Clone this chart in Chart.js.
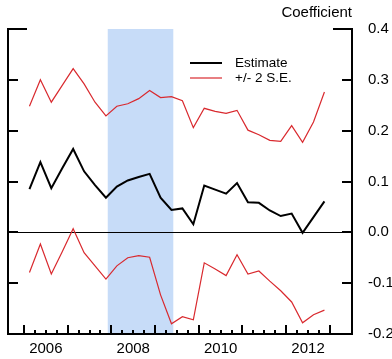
<!DOCTYPE html>
<html>
<head>
<meta charset="utf-8">
<script src="https://cdn.jsdelivr.net/npm/chart.js@4"></script>
<style>
html,body{margin:0;padding:0;background:#fff;}
canvas{display:block;}
</style>
</head>
<body>
<canvas id="c" width="392" height="359"></canvas>
<script>
const quarters = ['2006Q1','2006Q2','2006Q3','2006Q4','2007Q1','2007Q2','2007Q3','2007Q4',
  '2008Q1','2008Q2','2008Q3','2008Q4','2009Q1','2009Q2','2009Q3','2009Q4',
  '2010Q1','2010Q2','2010Q3','2010Q4','2011Q1','2011Q2','2011Q3','2011Q4',
  '2012Q1','2012Q2','2012Q3','2012Q4'];
const estimate = [0.085,0.138,0.087,0.126,0.164,0.120,0.093,0.068,
  0.090,0.102,0.109,0.115,0.068,0.044,0.047,0.016,
  0.092,0.084,0.076,0.097,0.059,0.058,0.043,0.032,
  0.037,-0.001,0.030,0.061];
const upperSE = [0.248,0.300,0.256,0.289,0.322,0.292,0.256,0.229,
  0.248,0.253,0.263,0.279,0.265,0.267,0.259,0.206,
  0.244,0.238,0.234,0.240,0.201,0.192,0.181,0.179,
  0.210,0.177,0.217,0.276];
const lowerSE = [-0.079,-0.023,-0.082,-0.038,0.007,-0.040,-0.066,-0.092,
  -0.066,-0.050,-0.046,-0.049,-0.123,-0.180,-0.166,-0.172,
  -0.060,-0.072,-0.085,-0.044,-0.082,-0.076,-0.096,-0.115,
  -0.137,-0.178,-0.162,-0.153];
const yTickValues = [-0.2,-0.1,0.0,0.1,0.2,0.3,0.4];
const xYearLabels = [2006,2008,2010,2012];
const recession = [2007 + 11/12, 2009 + 5/12]; // Dec 2007 - Jun 2009
const xRange = [2005.634, 2013.506];
const seriesNames = ['Estimate', '+/- 2 S.E.'];
const axisTitle = 'Coefficient';

const FONT = "'Liberation Sans', Arial, Helvetica, sans-serif";
const RED = '#d9292e';

function qToYear(q) {
  const y = parseInt(q.slice(0,4), 10);
  const n = parseInt(q.slice(5), 10);
  return y + (n - 0.5) / 4;
}
const xs = quarters.map(qToYear);
const pts = arr => arr.map((v, i) => ({x: xs[i], y: v}));

const decor = {
  id: 'decor',
  beforeDatasetsDraw(chart) {
    const {ctx, chartArea: a, scales: {x, y}} = chart;
    ctx.save();
    // recession shading
    ctx.fillStyle = '#c7dcf8';
    const x0 = x.getPixelForValue(recession[0]);
    const x1 = x.getPixelForValue(recession[1]);
    ctx.fillRect(x0, a.top, x1 - x0, a.bottom - a.top);
    // zero line
    ctx.strokeStyle = '#000';
    ctx.lineWidth = 1;
    const y0 = Math.round(y.getPixelForValue(0)) + 0.5;
    ctx.beginPath();
    ctx.moveTo(a.left, y0);
    ctx.lineTo(a.right, y0);
    ctx.stroke();
    ctx.restore();
  },
  afterDatasetsDraw(chart) {
    const {ctx, chartArea: a, scales: {x, y}} = chart;
    ctx.save();
    ctx.strokeStyle = '#000';
    ctx.lineWidth = 2;
    ctx.lineCap = 'butt';
    const L = a.left, R = a.right, B = a.bottom;
    // frame: left, right, bottom
    ctx.beginPath();
    ctx.moveTo(L, a.top); ctx.lineTo(L, B + 1);
    ctx.moveTo(R, a.top); ctx.lineTo(R, B + 1);
    ctx.moveTo(L - 1, B); ctx.lineTo(R + 1, B);
    ctx.stroke();
    // y ticks (inward)
    ctx.beginPath();
    yTickValues.forEach(v => {
      const py = Math.round(y.getPixelForValue(v));
      const len = (v === yTickValues[yTickValues.length - 1]) ? 19 : 10;
      ctx.moveTo(L - 1, py); ctx.lineTo(L + len, py);
      ctx.moveTo(R + 1, py); ctx.lineTo(R - len, py);
    });
    ctx.stroke();
    // x ticks (inward, upward): years major, quarters minor
    ctx.beginPath();
    for (let yr = 2006; yr <= 2013; yr++) {
      for (let q = 0; q < 4; q++) {
        const v = yr + q / 4;
        if (v > 2013) break;
        const px = Math.round(x.getPixelForValue(v));
        const len = q === 0 ? 9 : 4;
        ctx.moveTo(px, B); ctx.lineTo(px, B - len);
      }
    }
    ctx.stroke();
    // axis title
    ctx.fillStyle = '#000';
    ctx.font = '15px ' + FONT;
    ctx.textAlign = 'right';
    ctx.textBaseline = 'middle';
    ctx.fillText(axisTitle, R, 13);
    // legend
    const ds = chart.data.datasets;
    const items = [[ds[0], 63], [ds[1], 78]];
    ctx.font = '13.5px ' + FONT;
    ctx.textAlign = 'left';
    items.forEach(([d, ly]) => {
      ctx.strokeStyle = d.borderColor;
      ctx.lineWidth = d.borderWidth;
      ctx.beginPath();
      ctx.moveTo(190, ly); ctx.lineTo(222, ly);
      ctx.stroke();
      ctx.fillStyle = '#000';
      ctx.fillText(d.label, 235, ly);
    });
    ctx.restore();
  }
};

new Chart(document.getElementById('c'), {
  type: 'line',
  data: {
    datasets: [
      {label: seriesNames[0], data: pts(estimate), borderColor: '#000', borderWidth: 2, pointRadius: 0, tension: 0},
      {label: seriesNames[1], data: pts(upperSE), borderColor: RED, borderWidth: 1.2, pointRadius: 0, tension: 0},
      {label: seriesNames[1] + ' lower', data: pts(lowerSE), borderColor: RED, borderWidth: 1.2, pointRadius: 0, tension: 0}
    ]
  },
  options: {
    responsive: false,
    animation: false,
    devicePixelRatio: 1,
    layout: {padding: {left: 8, top: 29, right: 0, bottom: 0}},
    plugins: {legend: {display: false}, tooltip: {enabled: false}},
    scales: {
      x: {
        type: 'linear',
        min: xRange[0], max: xRange[1],
        grid: {display: false, drawTicks: false},
        border: {display: false},
        afterBuildTicks: s => { s.ticks = xYearLabels.map(v => ({value: v + 0.5})); },
        afterFit: s => { s.height = 23; },
        ticks: {
          color: '#000', padding: 6, maxRotation: 0, autoSkip: false,
          font: {family: FONT, size: 15},
          callback: v => String(Math.floor(v))
        }
      },
      y: {
        type: 'linear',
        position: 'right',
        min: -0.2, max: 0.4,
        grid: {display: false, drawTicks: false},
        border: {display: false},
        afterBuildTicks: s => { s.ticks = yTickValues.map(v => ({value: v})); },
        afterFit: s => { s.width = 40; },
        ticks: {
          color: '#000', padding: 16,
          font: {family: FONT, size: 15},
          callback: v => v.toFixed(1)
        }
      }
    }
  },
  plugins: [decor]
});
</script>
</body>
</html>
